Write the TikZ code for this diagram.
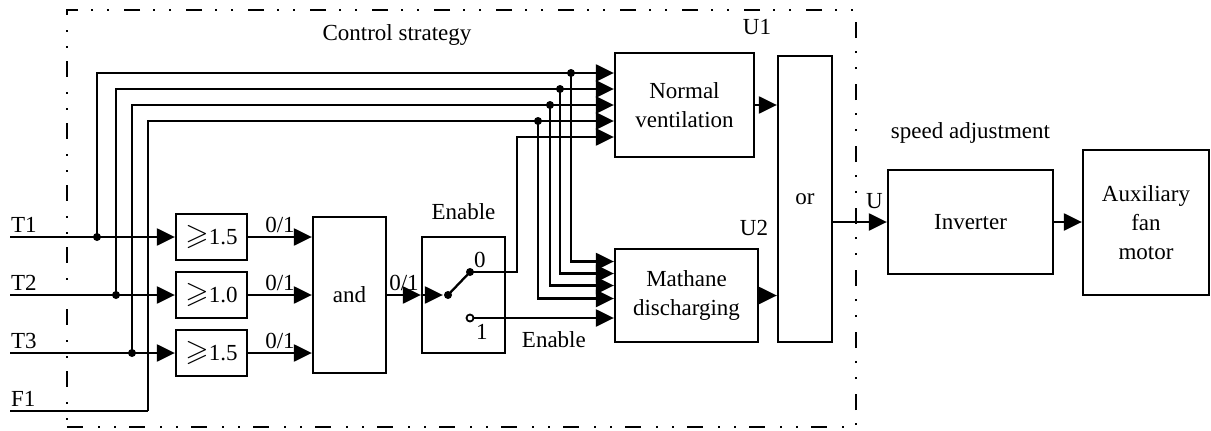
\documentclass[tikz,border=0pt]{standalone}
\usepackage{fontspec}
\setmainfont{Liberation Serif}
\usepackage{amssymb}
\usetikzlibrary{positioning,arrows.meta}

\newcommand{\geqsym}{{\fontsize{30}{30}\selectfont$\geqslant$}}

\begin{document}
\begin{tikzpicture}[
    x=1pt, y=-1pt,
    line width=2.3pt,
    every node/.style={font=\fontsize{23}{29}\selectfont, inner sep=3pt},
    block/.style={draw, line width=2.3pt, align=center, inner sep=0pt},
    thr/.style={block, minimum width=71pt, minimum height=46pt},
    arr/.style={-{Triangle[length=18pt,width=17pt]}},
    dot/.style={circle, fill, inner sep=0pt, minimum size=8pt},
    odot/.style={circle, draw, fill=white, line width=1.8pt, inner sep=0pt, minimum size=7pt},
    frame/.style={draw, line width=2.3pt, inner sep=0pt,
        dash pattern=on 16pt off 15pt on 2pt off 14pt on 2pt off 13pt}
]
\useasboundingbox (0,0) rectangle (1211,431);

% 控制策略框
\node[frame, minimum width=789pt, minimum height=417pt] (ctrl) at (461.5,218.5) {};
\node (ctrllab) at (397,35) {Control strategy};

% 方框
\node[thr] (th1) at (211.5,237) {\geqsym1.5};
\node[thr] (th2) at (211.5,295) {\geqsym1.0};
\node[thr] (th3) at (211.5,353) {\geqsym1.5};
\node[block, minimum width=73pt, minimum height=156pt] (andg) at (349.5,295) {and};
\node[block, minimum width=83pt, minimum height=116pt] (sw) at (463.5,295) {};
\node[block, minimum width=139pt, minimum height=104pt] (nv) at (684.5,105) {Normal\\ventilation};
\node[block, minimum width=143pt, minimum height=93pt] (md) at (686.5,295.5) {Mathane\\discharging};
\node[block, minimum width=54pt, minimum height=286pt] (org) at (805,199) {or};
\node[block, minimum width=165pt, minimum height=104pt] (inv) at (970.5,222) {Inverter};
\node[block, minimum width=126pt, minimum height=145pt] (motor) at (1146,222.5) {Auxiliary\\fan\\motor};

% 输入
\coordinate (t1) at (10,237);
\coordinate (t2) at (10,295);
\coordinate (t3) at (10,353);
\coordinate (f1) at (10,411);
\node[above right=0pt and -3pt of t1] (t1lab) {T1};
\node[above right=0pt and -3pt of t2] (t2lab) {T2};
\node[above right=0pt and -3pt of t3] (t3lab) {T3};
\node[above right=0pt and -3pt of f1] (f1lab) {F1};

% 分支点
\node[dot] (j1) at (97,237) {};
\node[dot] (j2) at (116,295) {};
\node[dot] (j3) at (132,353) {};
\coordinate (j4) at (148,411);
\node[dot] (b1) at (571,73) {};
\node[dot] (b2) at (560,89) {};
\node[dot] (b3) at (550,105) {};
\node[dot] (b4) at (538,121) {};

% 开关
\node[dot] (piv) at (448,295) {};
\node[dot] (c0) at (470,272) {};
\node[odot] (c1) at (470,318) {};
\coordinate (k0) at (517,272);
\node[anchor=south west] (lab0) at (c0.center) {0};
\node[anchor=north west, inner sep=5pt] (lab1) at (c1.center) {1};
\node[above=12pt of sw] (en1) {Enable};

% 标签
\node[above left=13pt and -20pt of nv.north east] (u1) {U1};
\node[above left=8pt and -13pt of md.north east] (u2) {U2};
\node[above=21pt of inv] (spd) {speed adjustment};

% 连接线
\draw[arr] (t1) -- (th1);
\draw[arr] (t2) -- (th2);
\draw[arr] (t3) -- (th3);
\draw (f1) -- (j4);

\draw[arr] (j1.center) |- ([yshift=32pt]nv.west);
\draw[arr] (j2.center) |- ([yshift=16pt]nv.west);
\draw[arr] (j3.center) |- (nv.west);
\draw[arr] (j4) |- ([yshift=-16pt]nv.west);

\draw[arr] (b1.center) |- ([yshift=34pt]md.west);
\draw[arr] (b2.center) |- ([yshift=22pt]md.west);
\draw[arr] (b3.center) |- ([yshift=10pt]md.west);
\draw[arr] (b4.center) |- ([yshift=-3pt]md.west);

\draw[arr] (th1) -- (th1 -| andg.west) node[midway, above] (o1) {0/1};
\draw[arr] (th2) -- (th2 -| andg.west) node[midway, above] (o2) {0/1};
\draw[arr] (th3) -- (th3 -| andg.west) node[midway, above] (o3) {0/1};
\draw[arr] (andg) -- (sw) node[midway, above] (o4) {0/1};

\draw[arr] (sw.west) -- (piv);
\draw (piv.center) -- (c0.center);
\draw[arr] (c0.center) -- (k0) |- ([yshift=-32pt]nv.west);
\draw[arr] (c1) -- (c1 -| md.west) node[pos=0.57, below=9pt] (en2) {Enable};

\draw[arr] (nv.east) -- (nv.east -| org.west);
\draw[arr] (md.east) -- (md.east -| org.west);
\draw[arr] (inv.west -| org.east) -- (inv.west) node[pos=0.77, above=9pt] (ulab) {U};
\draw[arr] (inv.east) -- (inv.east -| motor.west);

\end{tikzpicture}
\end{document}
